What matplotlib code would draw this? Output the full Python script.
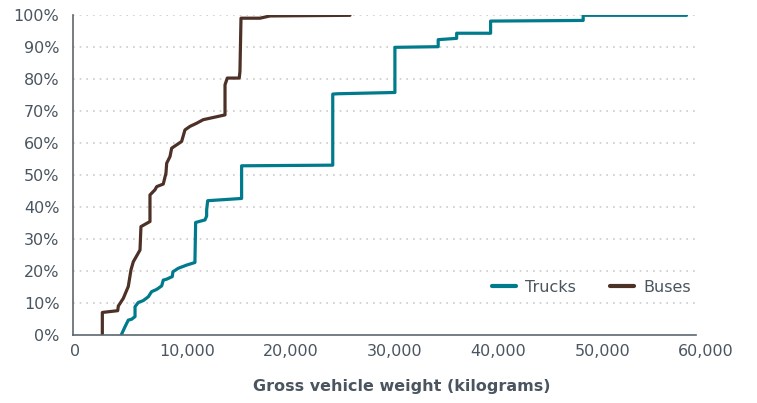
import matplotlib
matplotlib.use("Agg")
import matplotlib.pyplot as plt
import matplotlib.transforms as mtransforms
from matplotlib.ticker import FuncFormatter

# cumulative share of vehicles (%) by gross vehicle weight (kg)
truck_weight = [4600, 4980, 5300, 5630, 5950, 5950, 6260, 6740, 7230, 7550,
                8040, 8520, 8670, 9000, 9540, 9600, 10120, 10930, 11720, 11790,
                12690, 12850, 12850, 12950, 16220, 16220, 25000, 25000, 25470, 30990,
                30990, 35160, 35160, 36940, 36940, 40210, 40210, 49130, 49130, 59090]
truck_share = [0, 2.7, 4.8, 5.1, 5.9, 9.0, 10.3, 10.9, 12.1, 13.7,
               14.4, 15.5, 17.3, 17.6, 18.4, 19.9, 21.0, 22.0, 22.8, 35.3,
               36.1, 37.3, 39.2, 42.1, 42.8, 53.0, 53.2, 75.4, 75.5, 75.9,
               90.0, 90.2, 92.4, 92.8, 94.4, 94.4, 98.2, 98.4, 100, 100]

bus_weight = [2800, 2800, 4280, 4340, 4820, 5300, 5560, 5780, 6430, 6520,
              7390, 7390, 7870, 8040, 8670, 8930, 9000, 9320, 9480, 10440,
              10760, 11240, 11890, 12520, 14620, 14620, 14840, 15990, 16060, 16160,
              17990, 18950, 26660]
bus_share = [0, 7.2, 7.75, 9.2, 11.6, 15.3, 20.5, 23.0, 26.7, 34.0,
             35.6, 43.9, 45.5, 46.5, 47.3, 50.7, 53.8, 55.9, 58.5, 60.6,
             64.2, 65.3, 66.3, 67.4, 68.9, 78.3, 80.4, 80.4, 82.5, 99.1,
             99.1, 99.8, 100]

x_ticks = [0, 10000, 20000, 30000, 40000, 50000, 60000]
y_ticks = [0, 10, 20, 30, 40, 50, 60, 70, 80, 90, 100]

TEAL = "#007b8c"
BROWN = "#4d3127"
TEXT = "#4a5560"
AXIS = "#5c6670"

fig = plt.figure(figsize=(7.57, 4.03), dpi=100)
ax = fig.add_axes([0.0968, 0.1675, 0.8226, 0.7945])

ax.plot(truck_weight, truck_share, color=TEAL, lw=2.3, label="Trucks",
        solid_joinstyle="round", solid_capstyle="round")
ax.plot(bus_weight, bus_share, color=BROWN, lw=2.3, label="Buses",
        solid_joinstyle="round", solid_capstyle="round")

ax.set_xlim(0, 60000)
ax.set_ylim(0, 100)
ax.set_xticks(x_ticks)
ax.set_yticks(y_ticks)
ax.xaxis.set_major_formatter(FuncFormatter(lambda v, p: f"{int(v):,}"))
ax.yaxis.set_major_formatter(FuncFormatter(lambda v, p: f"{int(v)}%"))
ax.tick_params(length=0, labelsize=11.5, labelcolor=TEXT)
ax.tick_params(axis="y", pad=10)
ax.tick_params(axis="x", pad=6)

# the source's x labels sit a little right of their ticks
for lab, val in zip(ax.get_xticklabels(), x_ticks):
    dx = 2 if val == 0 else 10
    lab.set_transform(lab.get_transform() +
                      mtransforms.ScaledTranslation(dx / 100, 0, fig.dpi_scale_trans))

for y in y_ticks[1:]:
    ax.axhline(y, color="#cbcbcb", lw=1.2, ls=(0, (1, 3)), zorder=0)

for side in ["top", "right"]:
    ax.spines[side].set_visible(False)
for side in ["left", "bottom"]:
    ax.spines[side].set_color(AXIS)
    ax.spines[side].set_linewidth(1.2)

ax.set_xlabel("Gross vehicle weight (kilograms)", fontsize=11.5,
              fontweight="bold", color=TEXT)
ax.xaxis.set_label_coords(0.528, -0.135)

leg = ax.legend(loc="center right", bbox_to_anchor=(0.992, 0.151), ncol=2,
                frameon=False, fontsize=11.5, handlelength=1.5, handletextpad=0.6,
                columnspacing=2.1, borderaxespad=0, borderpad=0)
for t in leg.get_texts():
    t.set_color(TEXT)
for h in leg.get_lines():
    h.set_linewidth(3)

fig.savefig("out.png", dpi=100)
